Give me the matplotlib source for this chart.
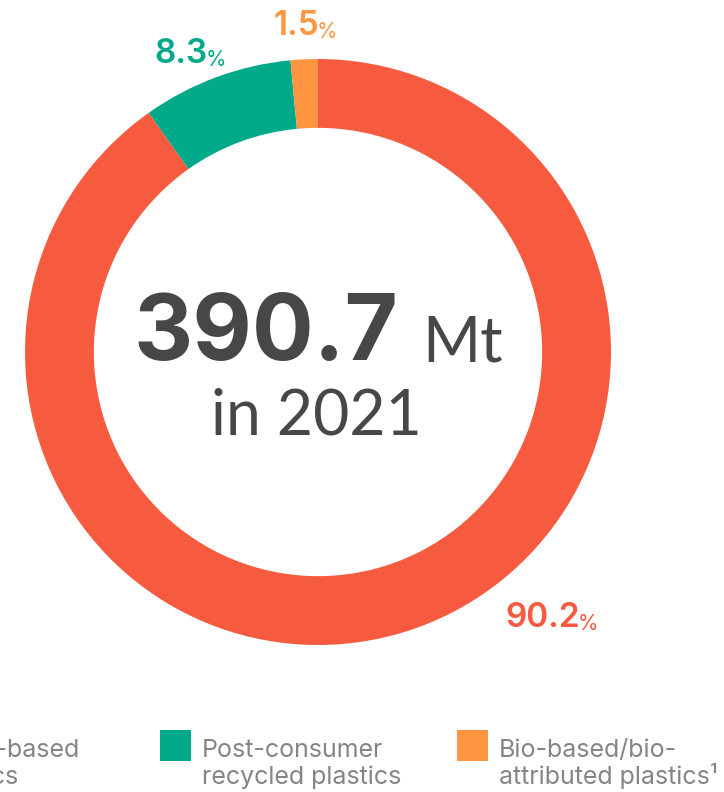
import numpy as np
import matplotlib.pyplot as plt
from matplotlib.patches import Rectangle

# plastics production 2021, share by type (%)
labels = ['Fossil-based\nplastics', 'Post-consumer\nrecycled plastics', 'Bio-based/bio-\nattributed plastics¹']
shares = [90.2, 8.3, 1.5]
colors = ['#F65B3F', '#00A98A', '#FE9540']
total_mt = '390.7'
year = '2021'

W, H = 724, 792
fig = plt.figure(figsize=(W / 100, H / 100), dpi=100)

# donut geometry in pixels
cx, cy, R = 318, 352, 293
ax = fig.add_axes([(cx - R) / W, 1 - (cy + R) / H, 2 * R / W, 2 * R / H])
ax.pie(shares, colors=colors, startangle=90, counterclock=False,
       radius=1, wedgeprops=dict(width=0.235, linewidth=0))
ax.set_xlim(-1, 1)
ax.set_ylim(-1, 1)
ax.set_aspect('equal')
ax.axis('off')


def px(x, y):
    return (x - cx) / R, (cy - y) / R


# percent labels: right edge of number and baseline, in pixels
label_px = [(580, 627), (208, 63), (319, 35)]
for s, c, (lx, ly) in zip(shares, colors, label_px):
    t = ax.text(*px(lx, ly), f'{s}', color=c, fontsize=24, fontweight='semibold',
                family='Inter', ha='right', va='baseline', clip_on=False)
    ax.annotate('%', xy=(1, 0), xycoords=t, xytext=(-2, 0), textcoords='offset points',
                color=c, fontsize=15, family='Inter', va='bottom', ha='left')

# centre text
ax.text(*px(398, 360), total_mt, fontsize=66, fontweight='bold', family='Inter',
        color='#474747', ha='right', va='baseline')
ax.text(*px(422, 361), 'Mt', fontsize=45, family='Lato',
        color='#474747', ha='left', va='baseline')
ax.text(*px(316, 434), f'in {year}', fontsize=45, family='Lato',
        color='#474747', ha='center', va='baseline')

# legend along the bottom (first item runs off the left edge)
leg_x = [-114, 160, 457]
for x0, lab, c in zip(leg_x, labels, colors):
    fig.add_artist(Rectangle((x0 / W, 1 - 761 / H), 31 / W, 31 / H,
                             transform=fig.transFigure, color=c, lw=0))
    for i, line in enumerate(lab.split('\n')):
        fig.text((x0 + 42) / W, 1 - (757 + 27 * i) / H, line, fontsize=18,
                 family='Inter', color='#858585', ha='left', va='baseline')

fig.savefig('out.png', dpi=100)
